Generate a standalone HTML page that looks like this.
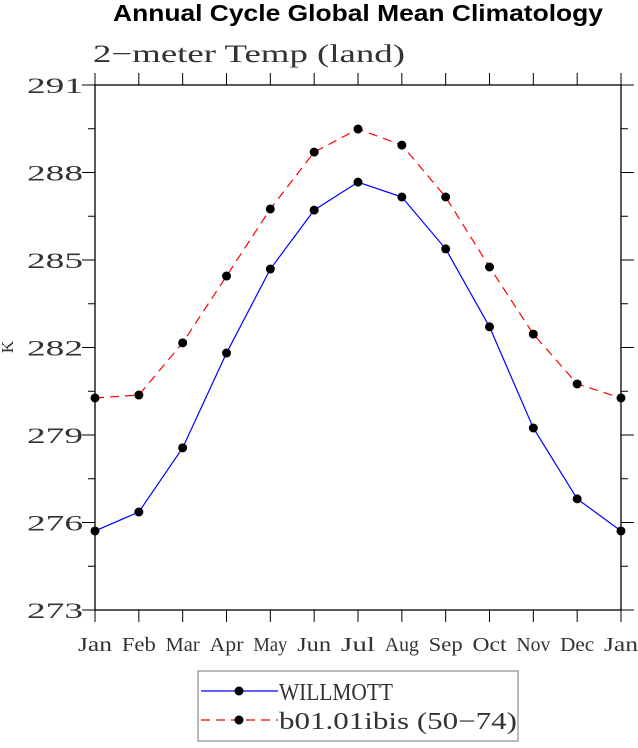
<!DOCTYPE html>
<html><head><meta charset="utf-8"><style>
body{margin:0;background:#fff;}
svg text{font-family:"Liberation Serif",serif;}
</style></head><body>
<svg id="chart" width="638" height="743" viewBox="0 0 638 743" xmlns="http://www.w3.org/2000/svg">
<text x="113" y="21" textLength="490" lengthAdjust="spacingAndGlyphs" style="font-family:'Liberation Sans',sans-serif;font-weight:bold;font-size:23px">Annual Cycle Global Mean Climatology</text>
<text x="93" y="62" font-size="25" fill="#333" textLength="312" lengthAdjust="spacingAndGlyphs">2−meter Temp (land)</text>
<text transform="translate(13,347) rotate(-90)" text-anchor="middle" font-size="17" fill="#333">K</text>
<g id="axes"></g>
<g id="series"></g>
<g>
<rect x="198" y="671" width="320" height="70" fill="none" stroke="#777" stroke-width="1"/>
<line x1="201" y1="691" x2="278" y2="691" stroke="#00f" stroke-width="1.2"/>
<circle cx="239" cy="691" r="4.5" fill="#000"/>
<text x="279" y="700" font-size="24" fill="#333" textLength="114" lengthAdjust="spacingAndGlyphs">WILLMOTT</text>
<line x1="201" y1="720" x2="278" y2="720" stroke="#f00" stroke-width="1.2" stroke-dasharray="9,6"/>
<circle cx="239" cy="720" r="4.5" fill="#000"/>
<text x="279" y="729" font-size="24" fill="#333" textLength="238" lengthAdjust="spacingAndGlyphs">b01.01ibis (50−74)</text>
</g>
</svg>
<script>
const months=["Jan","Feb","Mar","Apr","May","Jun","Jul","Aug","Sep","Oct","Nov","Dec","Jan"];
const willmott=[275.71,276.36,278.56,281.81,284.69,286.71,287.67,287.16,285.38,282.71,279.24,276.81,275.71];
const ibis=[280.27,280.37,282.16,284.45,286.75,288.70,289.49,288.94,287.16,284.76,282.46,280.75,280.27];
const yTicks=[273,276,279,282,285,288,291];
const NS="http://www.w3.org/2000/svg";
const L=95,R=621,T=85,B=610,ymin=273,ymax=291;
const xs=i=>L+(R-L)*i/(months.length-1);
const ys=v=>B-(v-ymin)/(ymax-ymin)*(B-T);
function mk(t,a,p){const e=document.createElementNS(NS,t);for(const k in a)e.setAttribute(k,a[k]);p.appendChild(e);return e;}
const ax=document.getElementById('axes');
const frame=mk('rect',{x:L,y:T,width:R-L,height:B-T,fill:'none',stroke:'#000','stroke-width':1.3},ax);


months.forEach((m,i)=>{
 const x=xs(i);
 mk('line',{x1:x,y1:B,x2:x,y2:B+12,stroke:'#000'},ax);
 mk('line',{x1:x,y1:T,x2:x,y2:T-12,stroke:'#000'},ax);
 const t=mk('text',{x:x-17,y:B+41,'font-size':20,fill:'#333',textLength:34,lengthAdjust:'spacingAndGlyphs'},ax);
 t.textContent=m;
 
 
});
for(let v=ymin;v<=ymax+0.01;v+=1.5){
 const y=ys(v),maj=Math.abs(v-Math.round(v/3)*3)<0.01;
 const len=maj?13:7;
 mk('line',{x1:L,y1:y,x2:L-len,y2:y,stroke:'#000'},ax);
 mk('line',{x1:R,y1:y,x2:R+len,y2:y,stroke:'#000'},ax);
}
yTicks.forEach(v=>{
 const t=mk('text',{x:L-68,y:ys(v)+8,'font-size':22,fill:'#333',textLength:56,lengthAdjust:'spacingAndGlyphs'},ax);
 t.textContent=v;
 
 
});
const sg=document.getElementById('series');
function draw(vals,color,dash,name){
 const pts=vals.map((v,i)=>xs(i)+','+ys(v)).join(' ');
 const pl=mk('polyline',{points:pts,fill:'none',stroke:color,'stroke-width':1.2},sg);
 if(dash)pl.setAttribute('stroke-dasharray',dash);
 
 
 vals.forEach((v,i)=>{
  const c=mk('circle',{cx:xs(i),cy:ys(v),r:4.5,fill:'#000'},sg);
  
  
 });
}
draw(ibis,'#f00','9,6','b01-ibis');
draw(willmott,'#00f',null,'willmott');
</script>
</body></html>
